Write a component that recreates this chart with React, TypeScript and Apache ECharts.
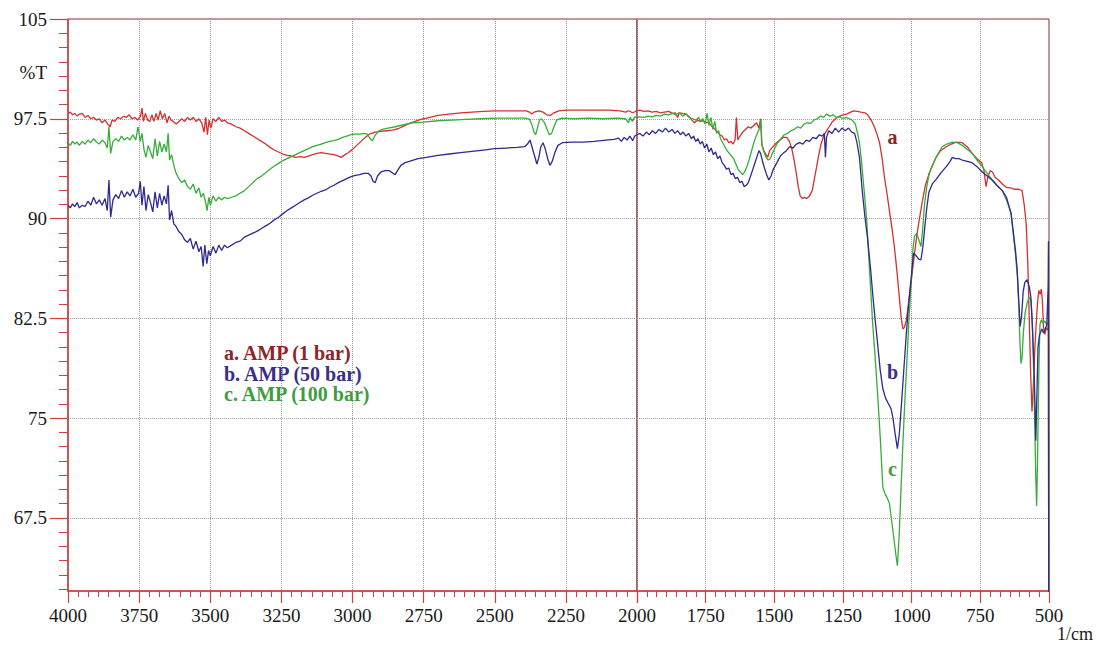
import React, { useEffect, useRef } from "react";
import * as echarts from "echarts";

type P = [number, number];

const yMajorTicks = [67.5, 75, 82.5, 90, 97.5, 105];
const yMinorPerMajor = 7;
const yMin = 62;
const yMax = 105;
const xTickStep = 250;
const seriesNames = ["a. AMP (1 bar)", "b. AMP (50 bar)", "c. AMP (100 bar)"];
const curveLabels = ["a", "b", "c"];
const curveLabelCoords: P[] = [[1070, 96.1], [1070, 78.5], [1070, 71.2]];

const redData: P[] = [
  [4000,97.9],[3992,98.0],[3984,97.8],[3976,97.9],[3968,97.7],[3960,97.85],[3950,97.9],[3940,97.6],[3930,97.75],[3920,97.5],[3910,97.6],[3900,97.4],[3890,97.5],[3880,97.2],[3870,97.4],[3860,97.1],[3852,96.9],[3845,97.4],[3835,97.3],[3825,97.6],[3815,97.5],[3805,97.7],[3795,97.6],[3785,97.8],[3775,97.5],[3765,97.6],[3755,97.4],[3745,97.7],[3740,98.3],[3735,97.3],[3728,97.9],[3720,97.4],[3712,97.3],[3705,97.8],[3698,97.3],[3690,97.9],[3683,97.4],[3676,98.1],[3668,97.5],[3660,97.9],[3652,97.2],[3645,97.7],[3638,97.4],[3630,97.3],[3620,97.1],[3610,97.3],[3600,97.5],[3590,97.3],[3580,97.6],[3570,97.4],[3560,97.6],[3550,97.3],[3540,97.5],[3530,97.2],[3522,96.5],[3516,97.6],[3510,96.3],[3504,97.4],[3498,96.8],[3490,97.5],[3480,97.3],[3470,97.6],[3460,97.3],[3450,97.4],[3440,97.2],[3425,97.1],[3410,96.9],[3395,96.8],[3380,96.6],[3365,96.4],[3350,96.2],[3335,96.0],[3320,95.8],[3305,95.6],[3290,95.35],[3275,95.15],[3260,95.0],[3245,94.85],[3230,94.75],[3215,94.7],[3200,94.6],[3185,94.65],[3170,94.6],[3155,94.7],[3140,94.8],[3125,94.9],[3110,94.95],[3095,94.9],[3080,94.85],[3065,94.8],[3050,94.7],[3040,94.6],[3030,94.75],[3015,94.95],[3000,95.2],[2985,95.5],[2970,95.8],[2955,96.1],[2940,96.35],[2920,96.5],[2900,96.55],[2880,96.6],[2860,96.65],[2840,96.75],[2820,96.95],[2800,97.15],[2780,97.3],[2760,97.45],[2740,97.55],[2720,97.65],[2700,97.75],[2660,97.85],[2620,97.95],[2580,98.0],[2540,98.05],[2500,98.1],[2440,98.1],[2390,98.1],[2378,98.0],[2370,97.85],[2362,98.0],[2345,98.1],[2330,98.0],[2318,97.8],[2305,97.75],[2292,97.95],[2275,98.1],[2250,98.15],[2200,98.15],[2150,98.15],[2100,98.15],[2060,98.1],[2040,98.0],[2030,98.1],[2015,97.95],[2000,98.1],
  [1990,98.15],[1975,98.05],[1960,98.1],[1945,98.0],[1930,98.05],[1915,97.95],[1900,98.0],[1885,98.05],[1870,97.9],[1860,97.95],[1852,97.6],[1846,97.95],[1835,97.9],[1820,97.85],[1808,97.6],[1800,97.4],[1790,97.2],[1780,97.4],[1770,97.3],[1760,97.35],[1750,97.2],[1740,97.25],[1730,97.0],[1720,96.8],[1712,96.6],[1705,96.5],[1698,96.3],[1690,96.2],[1682,95.9],[1674,96.0],[1666,95.7],[1658,95.8],[1650,95.6],[1643,95.9],[1638,97.6],[1633,95.9],[1625,96.2],[1615,96.5],[1605,96.7],[1595,96.9],[1585,96.8],[1575,97.0],[1565,97.2],[1556,96.8],[1550,97.5],[1546,95.6],[1538,95.1],[1530,94.8],[1524,94.6],[1517,95.1],[1505,95.4],[1492,95.7],[1480,95.9],[1467,96.1],[1455,96.1],[1445,95.8],[1436,95.2],[1428,94.4],[1420,93.4],[1413,92.4],[1406,91.7],[1398,91.5],[1390,91.6],[1382,91.5],[1372,91.7],[1362,92.1],[1354,93.0],[1346,93.9],[1338,94.8],[1330,95.6],[1320,96.2],[1310,96.6],[1300,96.9],[1288,97.3],[1272,97.6],[1255,97.75],[1237,97.85],[1222,98.0],[1210,98.1],[1198,98.05],[1185,98.0],[1170,97.95],[1160,97.8],[1154,97.6],[1145,97.3],[1136,96.9],[1127,96.4],[1117,95.7],[1108,94.6],[1099,93.1],[1090,91.9],[1081,90.6],[1072,89.3],[1063,87.9],[1054,86.1],[1045,84.1],[1038,82.5],[1032,81.7],[1027,81.8],[1020,82.3],[1014,83.2],[1007,84.4],[1000,85.6],[990,87.3],[980,88.9],[970,90.2],[961,91.3],[950,92.5],[936,93.4],[922,94.1],[911,94.6],[895,95.1],[874,95.4],[856,95.6],[838,95.75],[816,95.7],[798,95.4],[780,94.9],[762,94.5],[745,94.2],[737,93.6],[729,92.4],[722,93.2],[714,93.6],[706,93.5],[696,93.1],[684,92.9],[670,92.6],[656,92.35],[640,92.3],[625,92.2],[610,92.2],[598,92.1],[590,91.0],[583,89.6],[577,86.5],[572,82.5],[567,78.5],[562,75.5],[557,77.5],[552,80.0],[547,82.0],[542,83.6],[537,84.6],[532,84.3],[528,84.7],[524,83.8],[520,81.8],[515,81.3],[510,81.8],[505,81.6],[502,82.0],[501,61]
];

const blueData: P[] = [
  [4000,91.0],[3992,90.8],[3984,91.1],[3976,90.9],[3968,91.2],[3960,90.8],[3950,91.0],[3940,90.9],[3930,91.3],[3920,91.0],[3910,91.6],[3900,91.1],[3890,91.4],[3880,91.0],[3870,91.5],[3862,90.6],[3856,92.9],[3850,90.1],[3842,91.4],[3832,91.8],[3822,91.5],[3812,92.1],[3802,91.6],[3792,92.0],[3782,91.7],[3772,92.2],[3762,91.6],[3752,91.9],[3746,92.8],[3740,91.0],[3733,92.4],[3726,90.6],[3718,91.8],[3710,91.2],[3702,90.5],[3694,92.0],[3686,90.8],[3678,91.9],[3670,91.0],[3662,91.7],[3654,91.1],[3648,92.5],[3643,89.9],[3636,90.6],[3628,89.6],[3620,89.4],[3610,89.0],[3600,88.8],[3590,88.4],[3580,88.2],[3570,88.5],[3560,87.7],[3550,88.3],[3540,87.5],[3532,87.9],[3525,86.4],[3519,88.0],[3512,86.6],[3506,87.6],[3500,87.2],[3490,87.9],[3480,87.4],[3470,88.0],[3460,87.6],[3450,88.0],[3440,87.8],[3425,88.0],[3410,88.2],[3395,88.3],[3380,88.6],[3365,88.75],[3350,88.9],[3335,89.05],[3320,89.25],[3305,89.45],[3290,89.65],[3275,89.9],[3260,90.1],[3245,90.35],[3230,90.6],[3215,90.8],[3200,91.0],[3185,91.2],[3170,91.4],[3155,91.55],[3140,91.75],[3125,91.9],[3110,92.05],[3095,92.15],[3080,92.35],[3065,92.5],[3050,92.7],[3035,92.85],[3020,93.0],[3005,93.15],[2990,93.25],[2975,93.3],[2960,93.4],[2945,93.4],[2935,93.2],[2928,92.8],[2920,92.7],[2912,93.2],[2900,93.5],[2885,93.6],[2870,93.6],[2858,93.4],[2850,93.3],[2842,93.6],[2830,94.0],[2815,94.2],[2800,94.3],[2770,94.5],[2740,94.6],[2700,94.75],[2660,94.85],[2620,94.95],[2580,95.05],[2540,95.15],[2500,95.25],[2460,95.3],[2420,95.35],[2395,95.4],[2385,95.6],[2376,95.9],[2368,95.3],[2360,94.7],[2352,94.1],[2345,94.6],[2338,95.4],[2330,95.7],[2322,95.2],[2314,94.5],[2306,94.0],[2298,94.3],[2288,95.0],[2278,95.5],[2262,95.7],[2230,95.75],[2190,95.75],[2150,95.8],[2110,95.9],[2080,95.95],[2065,96.05],[2055,95.8],[2045,96.1],[2035,95.9],[2025,96.2],[2015,95.85],[2008,96.2],[2000,96.3],
  [1990,96.4],[1978,96.2],[1966,96.5],[1955,96.3],[1944,96.6],[1932,96.4],[1920,96.7],[1908,96.5],[1896,96.8],[1884,96.5],[1872,96.7],[1862,96.4],[1852,96.6],[1842,96.3],[1832,96.5],[1822,96.2],[1812,96.4],[1802,96.0],[1794,96.2],[1786,95.8],[1778,96.0],[1770,95.6],[1762,95.8],[1754,95.3],[1746,95.6],[1738,95.0],[1730,95.3],[1722,94.8],[1714,95.0],[1706,94.5],[1698,94.7],[1690,94.2],[1682,94.0],[1674,93.7],[1666,93.8],[1658,93.3],[1650,93.4],[1642,93.0],[1634,93.1],[1626,92.7],[1618,92.8],[1610,92.4],[1602,92.5],[1595,92.7],[1588,93.1],[1580,93.6],[1572,94.1],[1564,94.6],[1556,95.1],[1550,94.9],[1543,94.3],[1536,93.8],[1528,93.3],[1520,92.9],[1512,93.2],[1504,93.7],[1496,94.0],[1488,94.3],[1478,94.7],[1468,94.9],[1456,95.1],[1444,95.4],[1432,95.3],[1420,95.6],[1408,95.7],[1396,95.6],[1384,95.9],[1372,95.8],[1360,96.1],[1348,96.0],[1336,96.3],[1326,96.2],[1318,96.4],[1314,94.6],[1310,96.1],[1302,96.6],[1290,96.4],[1278,96.8],[1266,96.5],[1254,96.8],[1242,96.6],[1230,96.8],[1218,96.5],[1208,96.4],[1200,95.8],[1190,94.6],[1180,92.1],[1170,90.1],[1160,88.4],[1150,86.3],[1143,84.6],[1134,82.6],[1125,80.8],[1115,78.7],[1105,77.2],[1095,76.5],[1085,76.1],[1075,75.7],[1068,75.0],[1060,73.8],[1052,72.7],[1045,73.8],[1038,75.8],[1030,78.2],[1020,81.2],[1010,83.8],[1001,85.7],[993,87.4],[984,87.2],[974,86.95],[966,86.9],[959,87.9],[953,89.2],[945,90.8],[937,92.0],[925,92.6],[911,92.95],[895,93.4],[874,93.9],[860,94.3],[852,94.6],[840,94.5],[828,94.5],[816,94.4],[798,94.3],[780,94.2],[762,93.9],[743,93.5],[725,93.2],[707,92.9],[690,92.5],[670,92.1],[655,91.6],[645,90.9],[638,90.4],[630,89.0],[622,87.6],[616,86.2],[610,83.8],[605,81.9],[600,82.6],[594,84.5],[588,85.2],[580,85.4],[572,84.9],[566,84.1],[560,81.6],[555,79.1],[551,76.0],[548,73.3],[544,76.8],[540,80.3],[535,81.2],[530,81.5],[526,81.7],[520,81.4],[514,81.7],[508,82.0],[503,85.0],[502,88.3],[501,61]
];

const greenData: P[] = [
  [4000,95.7],[3992,95.5],[3984,95.8],[3976,95.6],[3968,95.75],[3960,95.5],[3950,95.8],[3940,95.6],[3930,95.9],[3920,95.7],[3910,96.0],[3900,95.75],[3890,95.6],[3880,95.9],[3870,95.7],[3862,95.3],[3856,96.9],[3850,94.9],[3842,95.8],[3832,96.0],[3822,95.8],[3812,96.2],[3802,95.9],[3792,96.1],[3782,95.9],[3772,96.3],[3762,95.9],[3754,96.9],[3746,95.8],[3740,96.4],[3733,95.2],[3726,94.6],[3718,95.5],[3710,95.0],[3702,94.5],[3694,96.0],[3686,94.7],[3678,95.8],[3670,95.0],[3662,95.6],[3654,95.0],[3648,96.4],[3643,94.4],[3636,94.8],[3628,94.0],[3620,93.4],[3610,93.0],[3600,92.7],[3590,92.9],[3580,92.4],[3570,92.2],[3560,92.6],[3550,91.9],[3540,92.3],[3532,91.6],[3524,91.9],[3516,91.2],[3511,90.6],[3505,91.6],[3500,91.0],[3490,91.7],[3480,91.3],[3470,91.6],[3460,91.4],[3450,91.6],[3440,91.5],[3425,91.6],[3410,91.7],[3395,91.9],[3380,92.1],[3365,92.4],[3350,92.7],[3335,93.0],[3320,93.2],[3305,93.45],[3290,93.7],[3275,93.95],[3260,94.15],[3245,94.35],[3230,94.5],[3215,94.65],[3200,94.8],[3185,94.95],[3170,95.1],[3155,95.25],[3140,95.4],[3125,95.5],[3110,95.6],[3095,95.7],[3080,95.8],[3065,95.85],[3050,95.95],[3035,96.1],[3020,96.2],[3005,96.3],[2990,96.35],[2975,96.35],[2960,96.4],[2948,96.35],[2938,96.0],[2930,95.85],[2922,96.2],[2910,96.55],[2895,96.7],[2875,96.8],[2850,96.9],[2820,97.05],[2790,97.2],[2750,97.25],[2700,97.35],[2650,97.4],[2600,97.45],[2550,97.5],[2500,97.55],[2440,97.55],[2390,97.55],[2378,97.45],[2370,97.1],[2362,96.5],[2356,96.3],[2350,96.8],[2343,97.4],[2335,97.5],[2325,97.2],[2316,96.7],[2308,96.3],[2300,96.4],[2292,96.9],[2282,97.4],[2265,97.55],[2220,97.5],[2170,97.55],[2120,97.5],[2070,97.55],[2040,97.5],[2030,97.2],[2024,97.6],[2016,97.3],[2008,97.65],[2000,97.6],
  [1990,97.65],[1975,97.6],[1960,97.7],[1945,97.65],[1930,97.75],[1915,97.7],[1900,97.85],[1885,97.8],[1870,97.9],[1858,97.8],[1846,97.95],[1834,97.7],[1822,97.85],[1810,97.6],[1798,97.5],[1786,97.4],[1776,97.6],[1768,97.3],[1760,97.5],[1752,97.1],[1745,97.9],[1738,97.0],[1731,97.6],[1724,96.7],[1717,97.3],[1710,96.4],[1703,96.6],[1696,96.0],[1688,95.7],[1680,95.4],[1672,95.1],[1664,94.9],[1656,94.7],[1648,94.5],[1640,94.1],[1632,93.7],[1624,93.5],[1616,93.3],[1608,93.5],[1600,93.9],[1592,94.4],[1584,95.0],[1576,95.6],[1568,96.1],[1560,96.5],[1553,96.8],[1549,97.5],[1545,95.5],[1538,95.0],[1530,94.6],[1522,94.4],[1515,94.5],[1507,94.9],[1498,95.3],[1488,95.7],[1476,96.0],[1464,96.3],[1452,96.4],[1440,96.6],[1428,96.7],[1416,96.9],[1404,96.8],[1392,97.1],[1380,97.2],[1368,97.15],[1356,97.4],[1344,97.5],[1332,97.7],[1320,97.6],[1310,97.85],[1298,97.7],[1286,97.8],[1274,97.6],[1262,97.65],[1250,97.5],[1238,97.6],[1226,97.5],[1214,97.35],[1205,97.1],[1197,96.4],[1190,95.7],[1183,94.4],[1177,93.0],[1170,91.4],[1163,89.7],[1157,87.4],[1151,85.3],[1142,82.1],[1133,79.6],[1124,76.8],[1114,73.4],[1105,69.8],[1097,69.3],[1089,69.0],[1081,68.6],[1073,67.3],[1065,66.0],[1058,64.8],[1052,63.9],[1046,66.0],[1040,69.0],[1033,72.6],[1026,75.8],[1018,79.0],[1010,82.4],[1001,85.4],[995,87.8],[989,88.7],[981,88.9],[974,88.4],[966,87.9],[960,89.2],[954,90.9],[945,92.4],[936,93.4],[922,94.1],[911,94.6],[900,95.0],[889,95.4],[872,95.6],[852,95.75],[834,95.7],[816,95.5],[798,95.2],[780,94.9],[762,94.4],[743,93.9],[725,93.4],[707,92.9],[690,92.5],[670,92.1],[655,91.4],[645,90.8],[638,90.3],[630,88.8],[622,87.3],[615,85.6],[610,83.4],[606,80.8],[602,79.1],[598,79.6],[593,81.5],[587,82.9],[580,83.6],[573,84.1],[566,83.9],[561,82.5],[556,78.5],[552,74.5],[548,70.5],[545,68.4],[542,71.5],[539,76.0],[536,79.5],[533,82.0],[528,82.4],[522,82.1],[515,82.3],[508,82.0],[502,82.2],[501,61]
];

const lineColors = ["#d63030", "#2e2a8e", "#38ad38"];
const textColors = ["#8e2424", "#3a2d8c", "#3f9c3f"];
const drawOrder = [3, 5, 4];
const FONT = "'Liberation Serif', 'Times New Roman', serif";
const AXIS_RED = "#d04040";
const FRAME = "#8a2c2c";
const GRIDC = "#a89c9c";

export default function App() {
  const ref = useRef<HTMLDivElement>(null);
  useEffect(() => {
    document.body.style.margin = "0";
    if (!ref.current) return;
    const chart = echarts.init(ref.current, null, { renderer: "svg" });

    const step = 7.5 / yMinorPerMajor;
    const yMinor: number[] = [];
    for (let k = 1; ; k++) {
      const v = +(yMax - k * step).toFixed(4);
      if (v < yMin) break;
      if (k % yMinorPerMajor !== 0) yMinor.push(v);
    }

    const all = [redData, blueData, greenData];
    const series: any[] = [];
    all.forEach((d, i) => {
      const left = d.filter((p) => p[0] >= 2000);
      const right = d.filter((p) => p[0] <= 2000);
      const common = {
        type: "line",
        showSymbol: false,
        symbol: "none",
        lineStyle: { color: lineColors[i], width: 1.3 },
        itemStyle: { color: lineColors[i] },
        silent: true,
        z: drawOrder[i],
      };
      series.push({ ...common, name: seriesNames[i], xAxisIndex: 0, yAxisIndex: 0, data: left });
      series.push({
        ...common,
        name: seriesNames[i] + " r",
        xAxisIndex: 1,
        yAxisIndex: 2,
        data: right,
        markPoint: {
          silent: true,
          symbol: "circle",
          symbolSize: 1,
          itemStyle: { color: "rgba(0,0,0,0)" },
          label: {
            show: true,
            position: "inside",
            formatter: curveLabels[i],
            fontFamily: FONT,
            fontWeight: "bold",
            fontSize: 20,
            color: textColors[i],
          },
          data: [{ coord: curveLabelCoords[i] }],
        },
      });
    });

    const xCommon = (gi: number, min: number, max: number) => ({
      type: "value",
      gridIndex: gi,
      min,
      max,
      interval: xTickStep,
      inverse: true,
      position: "bottom",
      axisLine: { show: true, onZero: false, lineStyle: { color: AXIS_RED, width: 1.5 } },
      axisTick: { show: true, length: 12, lineStyle: { color: AXIS_RED, width: 1.2 } },
      minorTick: { show: true, splitNumber: 7, length: 6, lineStyle: { color: AXIS_RED, width: 1 } },
      axisLabel: {
        fontFamily: FONT,
        fontSize: 19,
        color: "#1a1a1a",
        margin: 15,
        showMinLabel: true,
        showMaxLabel: true,
        formatter: (v: number) => (gi === 1 && v === 2000 ? "" : String(v)),
      },
      splitLine: { show: true, lineStyle: { color: GRIDC, type: "dotted", width: 1 } },
    });

    const yCommon = (gi: number) => ({
      type: "value",
      gridIndex: gi,
      min: yMin,
      max: yMax,
      position: "left",
    });

    const option: any = {
      animation: false,
      backgroundColor: "#ffffff",
      grid: [
        { left: 68, top: 19, width: 569, height: 572, show: true, borderColor: FRAME, borderWidth: 1, backgroundColor: "transparent" },
        { left: 637, top: 19, width: 412, height: 572, show: true, borderColor: FRAME, borderWidth: 1, backgroundColor: "transparent" },
      ],
      xAxis: [xCommon(0, 2000, 4000), xCommon(1, 500, 2000)],
      yAxis: [
        {
          ...yCommon(0),
          axisLine: { show: true, lineStyle: { color: AXIS_RED, width: 1.5 } },
          axisTick: { show: true, length: 18, customValues: yMajorTicks, lineStyle: { color: AXIS_RED, width: 1.2 } },
          axisLabel: {
            customValues: yMajorTicks,
            fontFamily: FONT,
            fontSize: 19,
            color: "#1a1a1a",
            margin: 21,
            formatter: (v: number) => String(v),
          },
          splitLine: { show: true, showMaxLine: false, lineStyle: { color: GRIDC, type: "dotted", width: 1 } },
        },
        {
          ...yCommon(0),
          axisLine: { show: false },
          axisTick: { show: true, length: 9, customValues: yMinor, lineStyle: { color: AXIS_RED, width: 1 } },
          axisLabel: { show: false },
          splitLine: { show: false },
        },
        {
          ...yCommon(1),
          axisLine: { show: false },
          axisTick: { show: false, customValues: yMajorTicks },
          axisLabel: { show: false, customValues: yMajorTicks },
          splitLine: { show: true, showMaxLine: false, lineStyle: { color: GRIDC, type: "dotted", width: 1 } },
        },
      ],
      series,
      graphic: [
        { type: "text", x: 47, y: 72, style: { text: "%T", font: `19px ${FONT}`, fill: "#1a1a1a", align: "right", verticalAlign: "middle" } },
        { type: "text", x: 1093, y: 634, style: { text: "1/cm", font: `18px ${FONT}`, fill: "#1a1a1a", align: "right", verticalAlign: "middle" } },
        ...seriesNames.map((t, i) => ({
          type: "text",
          x: 224,
          y: 353 + i * 20.5,
          style: { text: t, font: `bold 20px ${FONT}`, fill: textColors[i], align: "left", verticalAlign: "middle" },
        })),
      ],
    };
    chart.setOption(option);
    return () => chart.dispose();
  }, []);
  return <div ref={ref} style={{ width: 1097, height: 646 }} />;
}
